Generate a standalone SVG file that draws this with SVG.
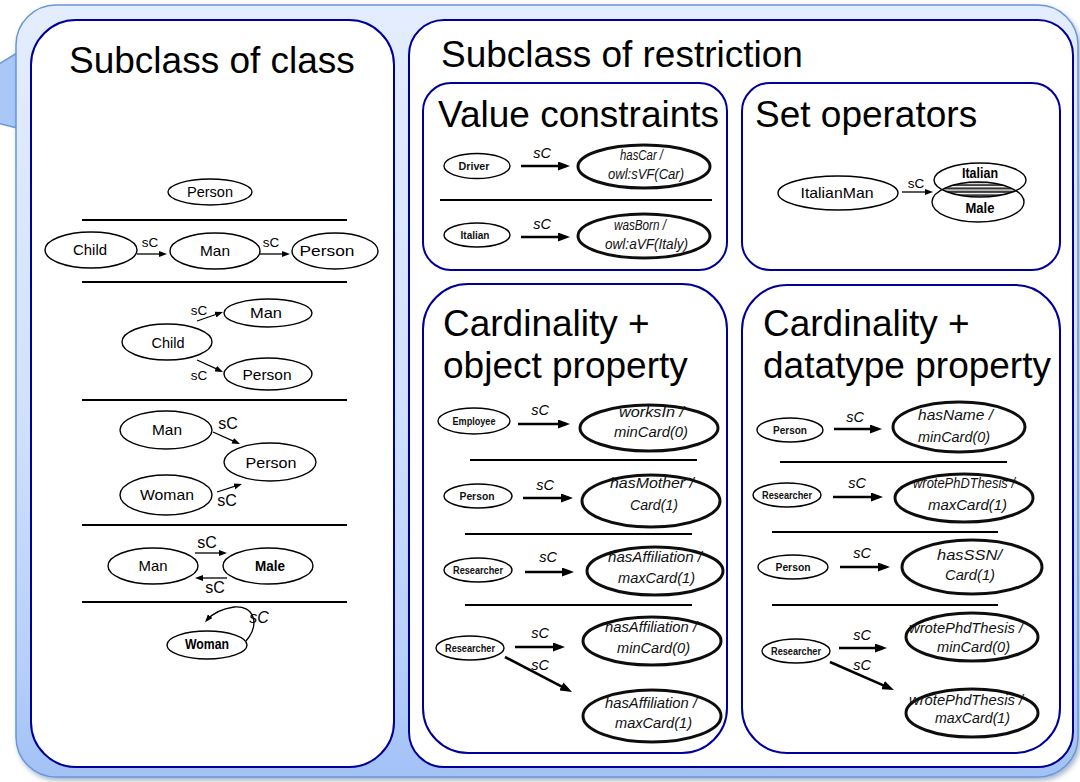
<svg xmlns="http://www.w3.org/2000/svg" width="1080" height="782" viewBox="0 0 1080 782">
  <defs>
    <linearGradient id="frameFill" x1="0" y1="0" x2="0" y2="1">
      <stop offset="0" stop-color="#e3edfd"/>
      <stop offset="0.5" stop-color="#d2e2fb"/>
      <stop offset="0.85" stop-color="#b7d0f9"/>
      <stop offset="1" stop-color="#a2c1f6"/>
    </linearGradient>
    <filter id="frameShadow" x="-5%" y="-5%" width="110%" height="110%">
      <feDropShadow dx="2" dy="3" stdDeviation="2.5" flood-color="#3a5a90" flood-opacity="0.45"/>
    </filter>
    <filter id="soft" x="-10%" y="-10%" width="120%" height="120%">
      <feGaussianBlur stdDeviation="0.55"/>
    </filter>
    <pattern id="hatch" width="10" height="3.4" patternUnits="userSpaceOnUse">
      <rect width="10" height="3.4" fill="#fff"/>
      <rect y="0.4" width="10" height="2" fill="#2a2a2a"/>
    </pattern>
    <clipPath id="clipMale">
      <ellipse cx="978" cy="202" rx="46" ry="20"/>
    </clipPath>
    <marker id="headS" markerUnits="userSpaceOnUse" viewBox="0 0 8 6" markerWidth="8" markerHeight="6" refX="5" refY="3" orient="auto">
      <path d="M0,0 L8,3 L0,6 z" fill="#000"/>
    </marker>
    <marker id="headL" markerUnits="userSpaceOnUse" viewBox="0 0 12 9" markerWidth="12" markerHeight="9" refX="8" refY="4.5" orient="auto">
      <path d="M0,0 L12,4.5 L0,9 z" fill="#000"/>
    </marker>
  </defs>
  <style>
    text { font-family: "Liberation Sans", Arial, Helvetica, sans-serif; fill: #000; }
    .panel { fill: #fff; stroke: #000099; stroke-width: 2; }
    .title { font-size: 37px; }
    .node { fill: #fff; stroke: #000; stroke-width: 1.4; }
    .big { fill: #fff; stroke: #111; stroke-width: 3; }
    .outline { fill: none; stroke: #000; stroke-width: 1.4; }
    .lbl { font-size: 15px; text-anchor: middle; }
    .tiny { font-size: 10.5px; text-anchor: middle; fill: #111; }
    .bold { font-weight: bold; }
    .prop { font-size: 15.5px; font-style: italic; fill: #111; }
    .sep { stroke: #000; stroke-width: 2; }
    .edge { fill: none; stroke: #000; stroke-width: 1.3; marker-end: url(#headS); }
    .edgeL { fill: none; stroke: #000; stroke-width: 2.6; marker-end: url(#headL); }
    .sc { font-size: 13.5px; text-anchor: middle; }
    .scL { font-size: 16px; text-anchor: middle; }
    .sci { font-size: 14.5px; font-style: italic; text-anchor: middle; }
  </style>

  <!-- outer callout frame -->
  <g id="frame">
    <polygon points="17,53 -40,88 -40,114 17,128" fill="#a9c8f7" stroke="#6a98d4" stroke-width="1.5"/>
    <rect x="16" y="5" width="1062" height="772" rx="40" fill="url(#frameFill)" stroke="#6a98d4" stroke-width="1.5" filter="url(#frameShadow)"/>
  </g>

  <!-- panels -->
  <g id="panel-class">
    <rect class="panel" x="31" y="20" width="363" height="747" rx="45"/>
    <text class="title" x="69" y="73">Subclass of class</text>
  </g>
  <g id="panel-restriction">
    <rect class="panel" x="409" y="20" width="664" height="747" rx="35"/>
    <text class="title" x="441" y="67">Subclass of restriction</text>
  </g>
  <g id="panel-value">
    <rect class="panel" x="423" y="83" width="304" height="187" rx="28"/>
    <text class="title" x="438" y="127">Value constraints</text>
  </g>
  <g id="panel-set">
    <rect class="panel" x="742" y="83" width="318" height="187" rx="28"/>
    <text class="title" x="755" y="127">Set operators</text>
  </g>
  <g id="panel-object">
    <rect class="panel" x="423" y="284" width="304" height="469" rx="45"/>
    <text class="title" x="443" y="336">Cardinality +</text>
    <text class="title" x="443" y="378">object property</text>
  </g>
  <g id="panel-datatype">
    <rect class="panel" x="742" y="285" width="318" height="468" rx="45"/>
    <text class="title" x="763" y="336">Cardinality +</text>
    <text class="title" x="763" y="378">datatype property</text>
  </g>

  <!-- separator rules between examples -->
  <g id="separators">
    <line class="sep" x1="82" y1="220" x2="347" y2="220"/>
    <line class="sep" x1="82" y1="282" x2="347" y2="282"/>
    <line class="sep" x1="82" y1="400" x2="347" y2="400"/>
    <line class="sep" x1="82" y1="525" x2="347" y2="525"/>
    <line class="sep" x1="82" y1="602" x2="347" y2="602"/>
    <line class="sep" x1="440" y1="200" x2="712" y2="200"/>
    <line class="sep" x1="470" y1="460" x2="697" y2="460"/>
    <line class="sep" x1="465" y1="534" x2="692" y2="534"/>
    <line class="sep" x1="465" y1="605" x2="692" y2="605"/>
    <line class="sep" x1="780" y1="462" x2="1007" y2="462"/>
    <line class="sep" x1="772" y1="532" x2="998" y2="532"/>
    <line class="sep" x1="772" y1="605" x2="998" y2="605"/>
  </g>

  <!-- subclass of class nodes -->
  <g id="c-person-1"><ellipse class="node" cx="210" cy="192" rx="42" ry="13"/><text class="lbl" x="210" y="197" textLength="46" lengthAdjust="spacingAndGlyphs">Person</text></g>
  <g id="c-child-2"><ellipse class="node" cx="91" cy="250" rx="46" ry="18"/><text class="lbl" x="90" y="255" textLength="34" lengthAdjust="spacingAndGlyphs">Child</text></g>
  <g id="c-man-2"><ellipse class="node" cx="215" cy="251" rx="45" ry="18"/><text class="lbl" x="215" y="256" textLength="30" lengthAdjust="spacingAndGlyphs">Man</text></g>
  <g id="c-person-2"><ellipse class="node" cx="335" cy="251" rx="43" ry="18"/><text class="lbl" x="327" y="256" textLength="55" lengthAdjust="spacingAndGlyphs">Person</text></g>
  <g id="c-man-3"><ellipse class="node" cx="268" cy="313" rx="44" ry="14"/><text class="lbl" x="266" y="318" textLength="32" lengthAdjust="spacingAndGlyphs">Man</text></g>
  <g id="c-child-3"><ellipse class="node" cx="167" cy="342" rx="45" ry="18"/><text class="lbl" x="168" y="348" textLength="33" lengthAdjust="spacingAndGlyphs">Child</text></g>
  <g id="c-person-3"><ellipse class="node" cx="268" cy="374" rx="44" ry="16"/><text class="lbl" x="267" y="380" textLength="49" lengthAdjust="spacingAndGlyphs">Person</text></g>
  <g id="c-man-4"><ellipse class="node" cx="166" cy="430" rx="46" ry="19"/><text class="lbl" x="167" y="435" textLength="30" lengthAdjust="spacingAndGlyphs">Man</text></g>
  <g id="c-person-4"><ellipse class="node" cx="270" cy="462" rx="46" ry="19"/><text class="lbl" x="271" y="468" textLength="51" lengthAdjust="spacingAndGlyphs">Person</text></g>
  <g id="c-woman-4"><ellipse class="node" cx="166" cy="495" rx="46" ry="20"/><text class="lbl" x="167" y="500" textLength="54" lengthAdjust="spacingAndGlyphs">Woman</text></g>
  <g id="c-man-5"><ellipse class="node" cx="153" cy="566" rx="45" ry="18"/><text class="lbl" x="153" y="571" textLength="29" lengthAdjust="spacingAndGlyphs">Man</text></g>
  <g id="c-male-5"><ellipse class="node" cx="268" cy="566" rx="45" ry="18"/><text class="lbl bold" x="270" y="571" font-size="14" textLength="30" lengthAdjust="spacingAndGlyphs">Male</text></g>
  <g id="c-woman-6"><ellipse class="node" cx="207" cy="645" rx="40" ry="14"/><text class="lbl bold" x="207" y="649" font-size="12" textLength="44" lengthAdjust="spacingAndGlyphs">Woman</text></g>

  <!-- value constraints nodes -->
  <g id="v-driver"><ellipse class="node" cx="477" cy="166" rx="33" ry="12.5"/><text class="tiny bold" x="474" y="169.5" font-size="10" textLength="31" lengthAdjust="spacingAndGlyphs">Driver</text></g>
  <g id="v-hascar"><ellipse class="big" cx="644" cy="166.5" rx="66" ry="21.5" filter="url(#soft)"/><text class="prop" x="620" y="160" textLength="43" lengthAdjust="spacingAndGlyphs">hasCar /</text><text class="prop" x="608" y="179" textLength="76" lengthAdjust="spacingAndGlyphs">owl:sVF(Car)</text></g>
  <g id="v-italian"><ellipse class="node" cx="477" cy="235" rx="33" ry="12"/><text class="tiny bold" x="475" y="239" font-size="10" textLength="29" lengthAdjust="spacingAndGlyphs">Italian</text></g>
  <g id="v-wasborn"><ellipse class="big" cx="644" cy="236" rx="66" ry="22" filter="url(#soft)"/><text class="prop" x="614" y="230" textLength="52" lengthAdjust="spacingAndGlyphs">wasBorn /</text><text class="prop" x="605" y="249" textLength="83" lengthAdjust="spacingAndGlyphs">owl:aVF(Italy)</text></g>

  <!-- set operators nodes -->
  <g id="s-italianman"><ellipse class="node" cx="838" cy="193" rx="60" ry="17"/><text class="lbl" x="837" y="198" textLength="73" lengthAdjust="spacingAndGlyphs">ItalianMan</text></g>
  <g id="s-italian-male">
    <ellipse cx="980" cy="180" rx="46" ry="17" fill="#fff"/>
    <ellipse cx="978" cy="202" rx="46" ry="20" fill="#fff"/>
    <ellipse cx="980" cy="180" rx="46" ry="17" fill="url(#hatch)" clip-path="url(#clipMale)"/>
    <ellipse class="outline" cx="980" cy="180" rx="46" ry="17"/>
    <ellipse class="outline" cx="978" cy="202" rx="46" ry="20"/>
    <text class="lbl bold" x="980" y="178" font-size="13" textLength="36" lengthAdjust="spacingAndGlyphs">Italian</text>
    <text class="lbl bold" x="980" y="213" font-size="13" textLength="29" lengthAdjust="spacingAndGlyphs">Male</text>
  </g>

  <!-- cardinality + object property nodes -->
  <g id="o-employee"><ellipse class="node" cx="474" cy="421" rx="36" ry="13"/><text class="tiny bold" x="474" y="424.5" font-size="9.5" textLength="43" lengthAdjust="spacingAndGlyphs">Employee</text></g>
  <g id="o-worksin"><ellipse class="big" cx="649" cy="428" rx="69" ry="23" filter="url(#soft)"/><text class="prop" x="619" y="417" textLength="65" lengthAdjust="spacingAndGlyphs">worksIn /</text><text class="prop" x="614" y="437" textLength="74" lengthAdjust="spacingAndGlyphs">minCard(0)</text></g>
  <g id="o-person"><ellipse class="node" cx="478" cy="496" rx="34" ry="12"/><text class="tiny bold" x="477" y="500" font-size="10" textLength="35" lengthAdjust="spacingAndGlyphs">Person</text></g>
  <g id="o-hasmother"><ellipse class="big" cx="651" cy="501" rx="69" ry="26" filter="url(#soft)"/><text class="prop" x="610" y="488" textLength="84" lengthAdjust="spacingAndGlyphs">hasMother /</text><text class="prop" x="630" y="510" textLength="48" lengthAdjust="spacingAndGlyphs">Card(1)</text></g>
  <g id="o-researcher-1"><ellipse class="node" cx="478" cy="570" rx="34" ry="12"/><text class="tiny bold" x="478" y="573.5" font-size="9.5" textLength="50" lengthAdjust="spacingAndGlyphs">Researcher</text></g>
  <g id="o-hasaffiliation-1"><ellipse class="big" cx="655" cy="571" rx="68" ry="24" filter="url(#soft)"/><text class="prop" x="608" y="562" textLength="94" lengthAdjust="spacingAndGlyphs">hasAffiliation /</text><text class="prop" x="618" y="583" textLength="77" lengthAdjust="spacingAndGlyphs">maxCard(1)</text></g>
  <g id="o-researcher-2"><ellipse class="node" cx="470" cy="648" rx="34" ry="12"/><text class="tiny bold" x="470" y="651.5" font-size="9.5" textLength="50" lengthAdjust="spacingAndGlyphs">Researcher</text></g>
  <g id="o-hasaffiliation-2"><ellipse class="big" cx="652" cy="641" rx="69" ry="24" filter="url(#soft)"/><text class="prop" x="605" y="632" textLength="92" lengthAdjust="spacingAndGlyphs">hasAffiliation /</text><text class="prop" x="617" y="653" textLength="73" lengthAdjust="spacingAndGlyphs">minCard(0)</text></g>
  <g id="o-hasaffiliation-3"><ellipse class="big" cx="652" cy="716" rx="69" ry="26" filter="url(#soft)"/><text class="prop" x="605" y="708" textLength="92" lengthAdjust="spacingAndGlyphs">hasAffiliation /</text><text class="prop" x="615" y="728" textLength="77" lengthAdjust="spacingAndGlyphs">maxCard(1)</text></g>

  <!-- cardinality + datatype property nodes -->
  <g id="d-person-1"><ellipse class="node" cx="790" cy="430" rx="33" ry="12"/><text class="tiny bold" x="790" y="434" font-size="10" textLength="34" lengthAdjust="spacingAndGlyphs">Person</text></g>
  <g id="d-hasname"><ellipse class="big" cx="959" cy="427" rx="66" ry="25" filter="url(#soft)"/><text class="prop" x="918" y="420" textLength="75" lengthAdjust="spacingAndGlyphs">hasName /</text><text class="prop" x="918" y="442" textLength="72" lengthAdjust="spacingAndGlyphs">minCard(0)</text></g>
  <g id="d-researcher-1"><ellipse class="node" cx="787" cy="495" rx="34" ry="12"/><text class="tiny bold" x="787" y="498.5" font-size="9.5" textLength="50" lengthAdjust="spacingAndGlyphs">Researcher</text></g>
  <g id="d-wrotephdthesis-1"><ellipse class="big" cx="964" cy="498" rx="69" ry="24" filter="url(#soft)"/><text class="prop" x="913" y="488" textLength="102" lengthAdjust="spacingAndGlyphs">wrotePhDThesis /</text><text class="prop" x="928" y="510" textLength="79" lengthAdjust="spacingAndGlyphs">maxCard(1)</text></g>
  <g id="d-person-2"><ellipse class="node" cx="793" cy="567" rx="35" ry="12"/><text class="tiny bold" x="793" y="571" font-size="10" textLength="35" lengthAdjust="spacingAndGlyphs">Person</text></g>
  <g id="d-hasssn"><ellipse class="big" cx="972" cy="567" rx="70" ry="27" filter="url(#soft)"/><text class="prop" x="937" y="560" textLength="65" lengthAdjust="spacingAndGlyphs">hasSSN/</text><text class="prop" x="945" y="580" textLength="50" lengthAdjust="spacingAndGlyphs">Card(1)</text></g>
  <g id="d-researcher-2"><ellipse class="node" cx="796" cy="651" rx="34" ry="12"/><text class="tiny bold" x="796" y="654.5" font-size="9.5" textLength="50" lengthAdjust="spacingAndGlyphs">Researcher</text></g>
  <g id="d-wrotephdthesis-2"><ellipse class="big" cx="972" cy="637" rx="66" ry="24" filter="url(#soft)"/><text class="prop" x="909" y="633" textLength="114" lengthAdjust="spacingAndGlyphs">wrotePhdThesis /</text><text class="prop" x="937" y="652" textLength="73" lengthAdjust="spacingAndGlyphs">minCard(0)</text></g>
  <g id="d-wrotephdthesis-3"><ellipse class="big" cx="972" cy="713" rx="66" ry="24" filter="url(#soft)"/><text class="prop" x="909" y="705" textLength="114" lengthAdjust="spacingAndGlyphs">wrotePhdThesis /</text><text class="prop" x="935" y="723" textLength="75" lengthAdjust="spacingAndGlyphs">maxCard(1)</text></g>

  <!-- subClassOf connectors and their labels -->
  <g id="connectors">
    <!-- subclass of class -->
    <line class="edge" x1="137" y1="254" x2="164" y2="254"/>
    <text class="sc" x="150" y="247">sC</text>
    <line class="edge" x1="260" y1="254" x2="287" y2="254"/>
    <text class="sc" x="271" y="247">sC</text>
    <line class="edge" x1="197" y1="321" x2="220.2" y2="313"/>
    <text class="sc" x="199" y="315">sC</text>
    <line class="edge" x1="197" y1="360" x2="220.3" y2="370.7"/>
    <text class="sc" x="199" y="380">sC</text>
    <line class="edge" x1="213" y1="432" x2="237.3" y2="442.8"/>
    <text class="scL" x="228" y="429">sC</text>
    <line class="edge" x1="217" y1="492" x2="239.1" y2="484.9"/>
    <text class="scL" x="227" y="506">sC</text>
    <line class="edge" x1="195" y1="553" x2="224" y2="553"/>
    <text class="scL" x="207" y="548">sC</text>
    <line class="edge" x1="227" y1="578" x2="198" y2="578"/>
    <text class="scL" x="215" y="593">sC</text>
    <path class="edge" d="M246,641 C261,623 253,605 234,607 C221,609 212,614 207,620"/>
    <text class="scL" x="259" y="623" font-style="italic">sC</text>

    <!-- value constraints -->
    <line class="edgeL" x1="521" y1="166" x2="566" y2="166"/>
    <text class="sci" x="542" y="158">sC</text>
    <line class="edgeL" x1="521" y1="237" x2="566" y2="237"/>
    <text class="sci" x="542" y="229">sC</text>

    <!-- set operators -->
    <line class="edge" x1="902" y1="192" x2="930" y2="192"/>
    <text class="sc" x="916" y="188" font-size="14">sC</text>

    <!-- cardinality + object property -->
    <line class="edgeL" x1="518" y1="424" x2="566" y2="424"/>
    <text class="sci" x="540" y="415">sC</text>
    <line class="edgeL" x1="523" y1="498" x2="569" y2="498"/>
    <text class="sci" x="545" y="490">sC</text>
    <line class="edgeL" x1="525" y1="572" x2="570" y2="572"/>
    <text class="sci" x="548" y="562">sC</text>
    <line class="edgeL" x1="515" y1="647" x2="561" y2="647"/>
    <text class="sci" x="540" y="638">sC</text>
    <line class="edgeL" x1="505" y1="657" x2="568.5" y2="690.1"/>
    <text class="sci" x="540" y="670">sC</text>

    <!-- cardinality + datatype property -->
    <line class="edgeL" x1="834" y1="429" x2="878" y2="429"/>
    <text class="sci" x="855" y="422">sC</text>
    <line class="edgeL" x1="833" y1="497" x2="879" y2="497"/>
    <text class="sci" x="857" y="488">sC</text>
    <line class="edgeL" x1="840" y1="567" x2="886" y2="567"/>
    <text class="sci" x="862" y="558">sC</text>
    <line class="edgeL" x1="839" y1="648" x2="883" y2="648"/>
    <text class="sci" x="862" y="640">sC</text>
    <line class="edgeL" x1="830" y1="662" x2="890.3" y2="688.4"/>
    <text class="sci" x="862" y="670">sC</text>
  </g>
</svg>
